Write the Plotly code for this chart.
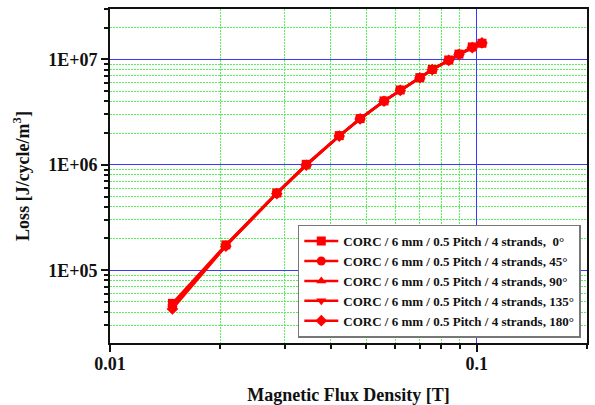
import plotly.graph_objects as go

# Data (Magnetic flux density [T] vs loss [J/cycle/m^3])
b_field = [0.0148, 0.0207, 0.0285, 0.0343, 0.0422, 0.0481, 0.0559, 0.0619,
           0.0700, 0.0757, 0.0839, 0.0895, 0.0973, 0.1034]

loss_0 = [4.85e4, 1.74e5, 5.40e5, 1.01e6, 1.89e6, 2.74e6, 4.03e6, 5.12e6,
          6.70e6, 8.02e6, 9.85e6, 1.12e7, 1.31e7, 1.42e7]
loss_45 = [4.60e4, 1.72e5, 5.36e5, 1.00e6, 1.88e6, 2.73e6, 4.02e6, 5.10e6,
           6.68e6, 8.00e6, 9.80e6, 1.12e7, 1.30e7, 1.42e7]
loss_90 = [4.70e4, 1.73e5, 5.38e5, 1.00e6, 1.88e6, 2.73e6, 4.02e6, 5.11e6,
           6.69e6, 8.01e6, 9.82e6, 1.12e7, 1.30e7, 1.42e7]
loss_135 = [4.50e4, 1.70e5, 5.34e5, 0.99e6, 1.87e6, 2.72e6, 4.01e6, 5.09e6,
            6.67e6, 7.99e6, 9.78e6, 1.11e7, 1.29e7, 1.41e7]
loss_180 = [4.30e4, 1.69e5, 5.32e5, 0.99e6, 1.87e6, 2.72e6, 4.00e6, 5.08e6,
            6.66e6, 7.98e6, 9.76e6, 1.11e7, 1.29e7, 1.43e7]

series_names = ["CORC / 6 mm / 0.5 Pitch / 4 strands,\u00a0\u00a00°",
                "CORC / 6 mm / 0.5 Pitch / 4 strands, 45°",
                "CORC / 6 mm / 0.5 Pitch / 4 strands, 90°",
                "CORC / 6 mm / 0.5 Pitch / 4 strands, 135°",
                "CORC / 6 mm / 0.5 Pitch / 4 strands, 180°"]
series_values = [loss_0, loss_45, loss_90, loss_135, loss_180]
series_symbols = ["square", "circle", "triangle-up", "triangle-down", "diamond"]

x_tickvals = [0.01, 0.1]
x_ticktext = ["0.01", "0.1"]
x_minor = [0.02, 0.03, 0.04, 0.05, 0.06, 0.07, 0.08, 0.09, 0.2]
y_tickvals = [1e5, 1e6, 1e7]
y_ticktext = ["1E+05", "1E+06", "1E+07"]
y_minor = [2e4, 3e4, 4e4, 5e4, 6e4, 7e4, 8e4, 9e4,
           2e5, 3e5, 4e5, 5e5, 6e5, 7e5, 8e5, 9e5,
           2e6, 3e6, 4e6, 5e6, 6e6, 7e6, 8e6, 9e6,
           2e7, 3e7]

SERIF = "Liberation Serif"
RED = "#ff0000"
GREEN = "#55f055"
BLUE = "#3a3aff"

fig = go.Figure()
for name, vals, sym in zip(series_names, series_values, series_symbols):
    fig.add_trace(go.Scatter(
        x=b_field, y=vals, mode="lines+markers", name=name,
        line=dict(color=RED, width=2.5),
        marker=dict(symbol=sym, size=9, color=RED),
    ))

axis_common = dict(
    showline=True, linecolor="#111111", linewidth=2, mirror=True,
    ticks="outside", ticklen=7, tickwidth=1.5, tickcolor="#111111",
    showgrid=True, gridcolor=BLUE, gridwidth=1,
    zeroline=False, automargin=False,
    tickfont=dict(family=SERIF, size=18, color="#111111", weight="bold"),
)

minor_common = dict(tickmode="array", ticks="outside", ticklen=4,
                    tickcolor="#111111", showgrid=True, gridcolor=GREEN,
                    griddash="2px,1px", gridwidth=1)

fig.update_xaxes(
    type="log", range=[-2, -0.699],
    tickmode="array", tickvals=x_tickvals, ticktext=x_ticktext,
    ticklabelstandoff=-4,
    minor=dict(tickvals=x_minor, **minor_common),
    title=dict(text="Magnetic Flux Density [T]", standoff=26,
               font=dict(family=SERIF, size=18, color="#111111", weight="bold")),
    **axis_common,
)
fig.update_yaxes(
    type="log", range=[4.31, 7.477],
    tickmode="array", tickvals=y_tickvals, ticktext=y_ticktext,
    minor=dict(tickvals=y_minor, **minor_common),
    title=dict(text="Loss [J/cycle/m<sup>3</sup>]", standoff=14,
               font=dict(family=SERIF, size=18, color="#111111", weight="bold")),
    **axis_common,
)

fig.update_layout(
    width=595, height=405,
    margin=dict(l=110, r=8, t=9, b=62),
    paper_bgcolor="white", plot_bgcolor="white",
    showlegend=True,
    legend=dict(x=0.987, y=0.016, xanchor="right", yanchor="bottom",
                bgcolor="white", bordercolor="#777777", borderwidth=1.5,
                font=dict(family=SERIF, size=13, color="#111111", weight="bold"),
                tracegroupgap=0, itemwidth=34),
)

fig.write_html("out.html")
